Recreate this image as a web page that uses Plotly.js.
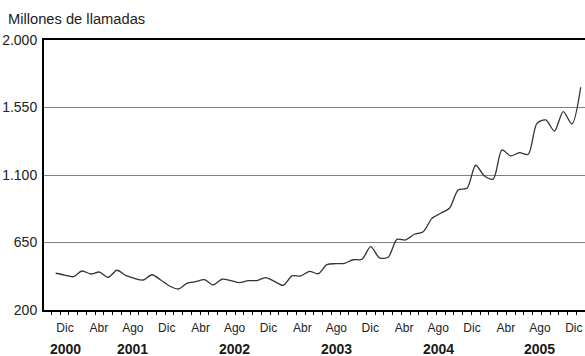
<!DOCTYPE html>
<html>
<head>
<meta charset="utf-8">
<script src="https://cdn.plot.ly/plotly-3.0.1.min.js"></script>
<style>html,body{margin:0;padding:0;background:#fff;}#chart{width:585px;height:356px;}</style>
</head>
<body>
<div id="chart"></div>
<script>
// Monthly series, Dec 2000 .. Dec 2005 (millions of calls)
const v2000 = [445];
const v2001 = [433, 422, 460, 440, 453, 418, 465, 431, 411, 400, 435, 400];
const v2002 = [360, 340, 378, 389, 402, 367, 405, 396, 382, 396, 396, 416];
const v2003 = [391, 365, 427, 427, 458, 442, 502, 509, 511, 535, 538, 622];
const v2004 = [548, 552, 671, 667, 705, 722, 811, 845, 878, 1000, 1011, 1165];
const v2005 = [1093, 1073, 1267, 1227, 1249, 1238, 1444, 1467, 1393, 1522, 1440, 1685];

const monthNames = ['Ene','Feb','Mar','Abr','May','Jun','Jul','Ago','Sep','Oct','Nov','Dic'];
const shownMonths = ['Dic','Abr','Ago'];
const yearLabels = ['2000','2001','2002','2003','2004','2005'];
const yearUnder = ['Dic 2000','Ago 2001','Ago 2002','Ago 2003','Ago 2004','Ago 2005'];
const yTicks = [200, 650, 1100, 1550, 2000];

// build categories (month-year) and values
const values = [].concat(v2000, v2001, v2002, v2003, v2004, v2005);
const categories = [];
categories.push('Dic 2000');
for (let y = 2001; y <= 2005; y++) for (let m = 0; m < 12; m++) categories.push(monthNames[m] + ' ' + y);
const idx = categories.map((_, i) => i);

// label axis positions
const labelIdx = [], labelText = [];
categories.forEach((c, i) => {
  const m = c.split(' ')[0];
  if (shownMonths.indexOf(m) >= 0) { labelIdx.push(i); labelText.push(m); }
});
const yearIdx = yearUnder.map(c => categories.indexOf(c));

const FONT = 'Liberation Sans, Arial, sans-serif';

const traces = [
  {
    x: idx, y: values, type: 'scatter', mode: 'lines',
    line: {color: '#333333', width: 1.3, shape: 'spline', smoothing: 0.8},
    hoverinfo: 'skip', showlegend: false
  },
  {
    x: labelIdx, y: labelIdx.map(() => yTicks[0]), xaxis: 'x2', type: 'scatter', mode: 'markers',
    marker: {opacity: 0}, hoverinfo: 'skip', showlegend: false
  }
];

const layout = {
  width: 585, height: 356,
  margin: {l: 44, r: 0, t: 40, b: 46, pad: 0},
  paper_bgcolor: '#ffffff', plot_bgcolor: '#ffffff',
  separators: ',.',
  font: {family: FONT, color: '#1a1a1a'},
  title: {
    text: 'Millones de llamadas',
    font: {family: FONT, size: 14.7, color: '#222222'},
    x: 8/585, xanchor: 'left', xref: 'container',
    y: 1 - 18.5/356, yanchor: 'middle', yref: 'container'
  },
  xaxis: {
    range: [-1.337, 60.49],
    showgrid: false, zeroline: false,
    showline: true, linecolor: '#000', linewidth: 2, mirror: true,
    tickmode: 'linear', tick0: 0.5, dtick: 1,
    ticks: 'outside', ticklen: 3, tickwidth: 1, tickcolor: '#000',
    showticklabels: false
  },
  xaxis2: {
    overlaying: 'x', anchor: 'y', side: 'bottom',
    range: [-2.476, 61.32],
    showgrid: false, zeroline: false, showline: false,
    tickmode: 'array', tickvals: labelIdx, ticktext: labelText,
    ticks: '', ticklabelstandoff: 9,
    tickfont: {family: FONT, size: 12, color: '#222222'}
  },
  yaxis: {
    range: [200, 2000],
    tickmode: 'array', tickvals: yTicks, tickformat: ',d',
    showgrid: true, gridcolor: '#808080', gridwidth: 1,
    zeroline: false,
    showline: true, linecolor: '#000', linewidth: 2,
    ticks: '', ticklabelstandoff: 2,
    tickfont: {family: FONT, size: 14, color: '#222222'}
  },
  annotations: yearLabels.map((t, k) => ({
    text: '<b>' + t + '</b>', xref: 'x2', x: yearIdx[k], yref: 'paper', y: -0.146,
    xanchor: 'center', yanchor: 'middle', showarrow: false,
    font: {family: FONT, size: 14, color: '#1a1a1a'}
  }))
};

Plotly.newPlot('chart', traces, layout, {staticPlot: true, displayModeBar: false});
</script>
</body>
</html>
